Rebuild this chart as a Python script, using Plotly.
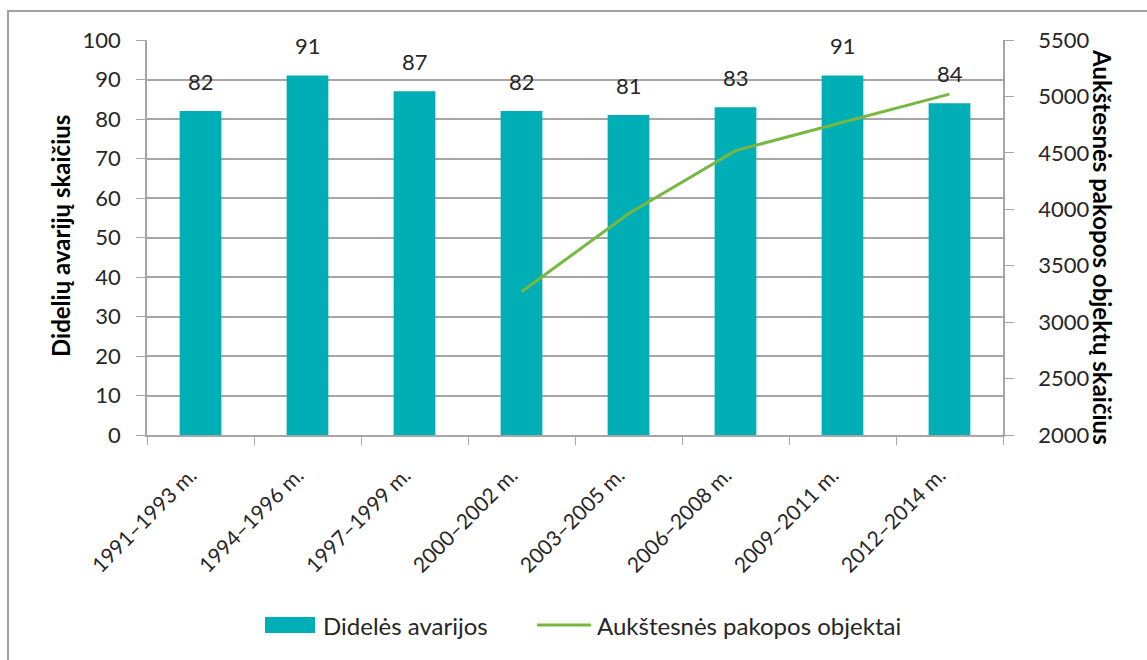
import plotly.graph_objects as go

# periods and values
periods = ["1991–1993 m.", "1994–1996 m.", "1997–1999 m.", "2000–2002 m.",
           "2003–2005 m.", "2006–2008 m.", "2009–2011 m.", "2012–2014 m."]
accidents = [82, 91, 87, 82, 81, 83, 91, 84]
# higher-tier objects, only known from 2000-2002 on
objects_periods = periods[3:]
objects_count = [3270, 3960, 4520, 4770, 5020]

font = "Lato, 'Liberation Sans', sans-serif"
txt = "#262626"
grid = "#a6a6a6"
bar_col = "#00AFB6"
line_col = "#77B843"

# plot area in pixels, used to place the hand-drawn legend and frame
L, R, T, B = 147, 1003, 40, 435
W, H = R - L, B - T


def px(x):
    return (x - L) / W


def py(y):
    return (B - y) / H


fig = go.Figure()
fig.add_trace(go.Bar(
    x=periods, y=accidents, name="Didelės avarijos",
    marker=dict(color=bar_col, line=dict(width=0)),
))
fig.add_trace(go.Scatter(
    x=objects_periods, y=objects_count, name="Aukštesnės pakopos objektai",
    mode="lines", line=dict(color=line_col, width=3), yaxis="y2",
))

annotations = []
# value labels above bars
for p, v in zip(periods, accidents):
    annotations.append(dict(x=p, y=v, text=str(v), showarrow=False, yshift=30,
                            font=dict(size=22, color=txt)))
annotations += [
    dict(text="<b>Didelių avarijų skaičius</b>", x=px(60), xref="paper",
         xanchor="center", y=py(236), yref="paper", yanchor="middle",
         showarrow=False, textangle=-90, font=dict(size=24, color="#000")),
    dict(text="<b>Aukštesnės pakopos objektų skaičius</b>", x=px(1103),
         xref="paper", xanchor="center", y=py(247), yref="paper", yanchor="middle",
         showarrow=False, textangle=90, font=dict(size=24, color="#000")),
    # legend texts
    dict(text="Didelės avarijos", x=px(321), y=py(625), xref="paper", yref="paper",
         xanchor="left", yanchor="middle", showarrow=False,
         font=dict(size=24, color=txt)),
    dict(text="Aukštesnės pakopos objektai", x=px(595), y=py(625), xref="paper",
         yref="paper", xanchor="left", yanchor="middle", showarrow=False,
         font=dict(size=24, color=txt)),
]

shapes = [
    dict(type="rect", xref="paper", yref="paper",
         x0=px(8), x1=px(1260), y0=py(760), y1=py(11),
         line=dict(color="#a0a0a0", width=2), fillcolor="rgba(0,0,0,0)", layer="below"),
    dict(type="rect", xref="paper", yref="paper",
         x0=px(265), x1=px(315), y0=py(633), y1=py(617),
         line=dict(width=0), fillcolor=bar_col),
    dict(type="line", xref="paper", yref="paper",
         x0=px(537), x1=px(591), y0=py(625), y1=py(625),
         line=dict(color=line_col, width=3)),
]

fig.update_layout(
    width=1147, height=660,
    margin=dict(l=L, r=1147 - R, t=T, b=660 - B, autoexpand=False),
    paper_bgcolor="white", plot_bgcolor="white",
    font=dict(family=font, size=17, color=txt),
    bargap=0.61,
    showlegend=False,
    xaxis=dict(
        type="category", tickangle=-45, tickson="boundaries",
        showline=True, linecolor=grid, linewidth=1.5,
        ticks="outside", ticklen=8, tickcolor=grid,
        ticklabelstandoff=18, ticklabelshift=-10,
        showgrid=False, tickfont=dict(size=21, color=txt),
    ),
    yaxis=dict(
        range=[0, 100], dtick=10, showgrid=True, gridcolor=grid, gridwidth=1.5,
        showline=True, linecolor=grid, linewidth=1.5,
        ticks="outside", ticklen=9, tickcolor=grid, ticklabelstandoff=11,
        zeroline=False, tickfont=dict(size=22, color=txt),
    ),
    yaxis2=dict(
        range=[2000, 5500], dtick=500, overlaying="y", side="right",
        showgrid=False, showline=True, linecolor=grid, linewidth=1.5,
        ticks="outside", ticklen=9, tickcolor=grid, ticklabelstandoff=20,
        zeroline=False, tickfont=dict(size=22, color=txt),
    ),
    shapes=shapes,
    annotations=annotations,
)

# drop the browser's default page margin so the figure sits at 0,0
fig.write_html("out.html", config={"displayModeBar": False},
               post_script="document.body.style.margin='0';")
